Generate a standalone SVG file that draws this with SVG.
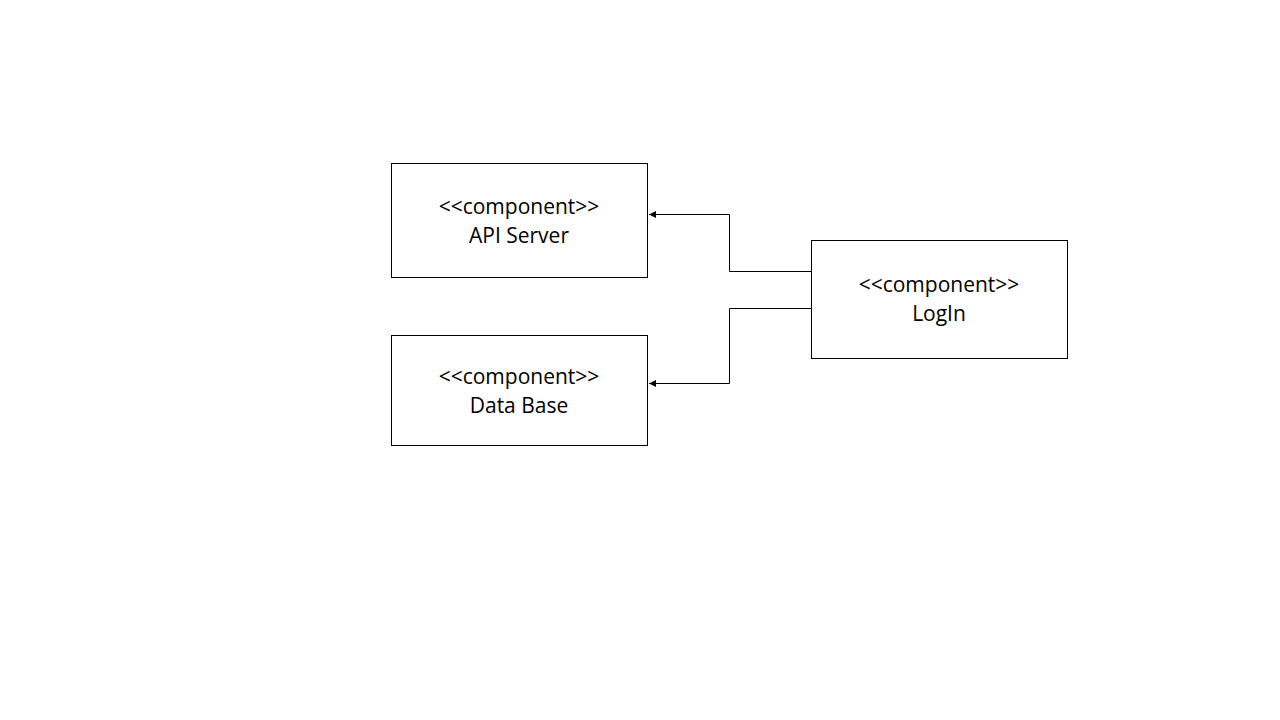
<svg xmlns="http://www.w3.org/2000/svg" width="1280" height="720" viewBox="0 0 1280 720">
<style>
.box{fill:#fff;stroke:#000;stroke-width:1}
.t{font-family:"Open Sans","Noto Sans",sans-serif;font-size:21px;fill:#000;text-anchor:middle}
.c{fill:none;stroke:#000;stroke-width:1}
</style>
<defs>
<marker id="ah" markerWidth="8" markerHeight="8" refX="7" refY="4" orient="auto" markerUnits="userSpaceOnUse">
<path d="M0,0.5 L7,4 L0,7.5 Z" fill="#000"/>
</marker>
</defs>
<rect width="1280" height="720" fill="#fff"/>
<g id="api-server">
<rect class="box" x="391.5" y="163.5" width="256" height="114"/>
<text class="t" x="519" y="214">&lt;&lt;component&gt;&gt;</text>
<text class="t" x="519" y="243">API Server</text>
</g>
<g id="data-base">
<rect class="box" x="391.5" y="335.5" width="256" height="110"/>
<text class="t" x="519" y="384">&lt;&lt;component&gt;&gt;</text>
<text class="t" x="519" y="413">Data Base</text>
</g>
<g id="login">
<rect class="box" x="811.5" y="240.5" width="256" height="118"/>
<text class="t" x="939" y="292">&lt;&lt;component&gt;&gt;</text>
<text class="t" x="939" y="321">LogIn</text>
</g>
<g id="connectors">
<path class="c" d="M811,271.5 H729.5 V214.5 H649" marker-end="url(#ah)"/>
<path class="c" d="M811,308.5 H729.5 V383.5 H649" marker-end="url(#ah)"/>
</g>
</svg>
